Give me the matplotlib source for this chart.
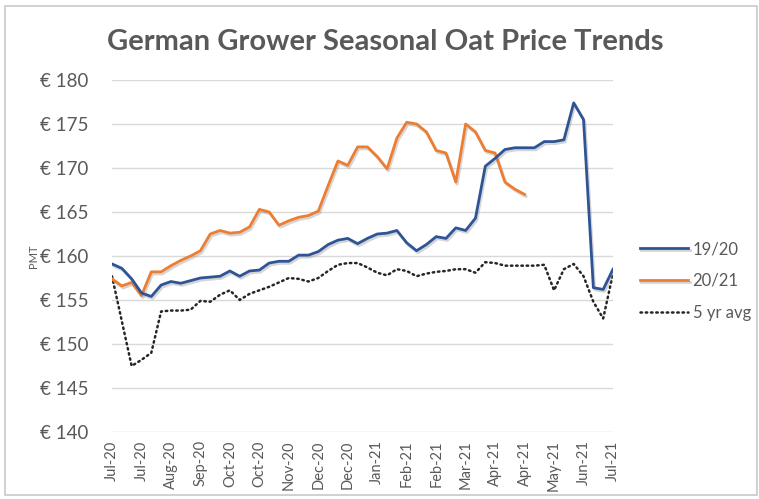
import matplotlib
matplotlib.use("Agg")
from matplotlib import pyplot as plt
from matplotlib import patheffects as pe
from matplotlib.patches import Rectangle

# weekly grower prices, EUR per tonne
prices_1920 = [159.1, 158.6, 157.4, 155.8, 155.4, 156.7, 157.1, 156.9, 157.2, 157.5,
               157.6, 157.7, 158.3, 157.7, 158.3, 158.4, 159.2, 159.4, 159.4, 160.1,
               160.1, 160.5, 161.3, 161.8, 162.0, 161.4, 162.0, 162.5, 162.6, 162.9,
               161.5, 160.6, 161.3, 162.2, 162.0, 163.2, 162.9, 164.3, 170.2, 171.1,
               172.1, 172.3, 172.3, 172.3, 173.0, 173.0, 173.2, 177.4, 175.5, 156.4,
               156.2, 158.5]
prices_2021 = [157.4, 156.6, 157.0, 155.5, 158.2, 158.2, 158.9, 159.5, 160.0, 160.6,
               162.5, 162.9, 162.6, 162.7, 163.3, 165.3, 165.0, 163.5, 164.0, 164.4,
               164.6, 165.1, 168.0, 170.8, 170.3, 172.4, 172.4, 171.3, 169.9, 173.4,
               175.2, 175.0, 174.1, 172.0, 171.7, 168.4, 175.0, 174.1, 172.0, 171.7,
               168.4, 167.6, 167.0]
prices_5yr = [157.7, 152.6, 147.5, 148.2, 149.0, 153.7, 153.8, 153.8, 153.9, 154.9,
              154.8, 155.6, 156.1, 155.0, 155.7, 156.1, 156.5, 157.0, 157.5, 157.4,
              157.1, 157.5, 158.3, 159.0, 159.2, 159.2, 158.7, 158.1, 157.8, 158.5,
              158.3, 157.7, 158.0, 158.2, 158.3, 158.5, 158.5, 158.1, 159.3, 159.2,
              158.9, 158.9, 158.9, 158.9, 159.0, 156.1, 158.5, 159.1, 157.7, 154.8,
              152.9, 158.0]
week_labels = ["Jul-20", "Jul-20", "Aug-20", "Sep-20", "Oct-20", "Oct-20", "Nov-20",
               "Dec-20", "Dec-20", "Jan-21", "Feb-21", "Feb-21", "Mar-21", "Apr-21",
               "Apr-21", "May-21", "Jun-21", "Jul-21"]
y_ticks = [140, 145, 150, 155, 160, 165, 170, 175, 180]

grey = "#595959"
plt.rcParams["font.family"] = ["Lato", "DejaVu Sans"]

fig = plt.figure(figsize=(7.59, 4.99), dpi=100)
fig.patches.append(Rectangle((5 / 759, 4 / 499), 752 / 759, 489 / 499,
                             transform=fig.transFigure, fill=False,
                             edgecolor="#c8c8c8", linewidth=1.2))

ax = fig.add_axes([112 / 759, 1 - 432 / 499, 501 / 759, 352 / 499])

shadow = [pe.SimpleLineShadow(offset=(1, -1.5), shadow_color="#888888", alpha=0.35),
          pe.Normal()]

ax.plot(range(len(prices_1920)), prices_1920, color="#2F5496", lw=2.0,
        label="19/20", path_effects=shadow, zorder=4)
ax.plot(range(len(prices_2021)), prices_2021, color="#ED7D31", lw=2.0,
        label="20/21", path_effects=shadow, zorder=3)
ax.plot(range(len(prices_5yr)), prices_5yr, color="#262626", lw=1.8,
        linestyle=(0, (0.6, 1.5)), dash_capstyle="round", label="5 yr avg", zorder=2)

ax.set_xlim(0, len(prices_1920) - 1)
ax.set_ylim(140, 180)
ax.set_yticks(y_ticks)
ax.set_yticklabels([f"€ {v}" for v in y_ticks])
ax.set_xticks(range(0, len(prices_1920), 3))
ax.set_xticklabels(week_labels, rotation=90)

ax.grid(axis="y", color="#d9d9d9", linewidth=1.0)
ax.set_axisbelow(True)
for side in ["top", "right", "left", "bottom"]:
    ax.spines[side].set_visible(False)
ax.tick_params(axis="y", length=0, pad=17, labelsize=13.5, labelcolor=grey)
ax.tick_params(axis="x", length=0, pad=6, labelsize=10.5, labelcolor=grey)

ax.set_ylabel("PMT", fontsize=8, color=grey, labelpad=2)
ax.yaxis.set_label_coords(-0.145, 0.5)

fig.text(0.507, 1 - 42 / 499, "German Grower Seasonal Oat Price Trends",
         ha="center", va="center", fontsize=21, fontweight="bold", color=grey)

ax.legend(loc="center left", bbox_to_anchor=(1.054, 0.429), frameon=False,
          fontsize=12, labelcolor=grey, handlelength=2.9, handletextpad=0.25,
          labelspacing=0.95, borderpad=0, borderaxespad=0)

fig.savefig("out.png", dpi=100)
